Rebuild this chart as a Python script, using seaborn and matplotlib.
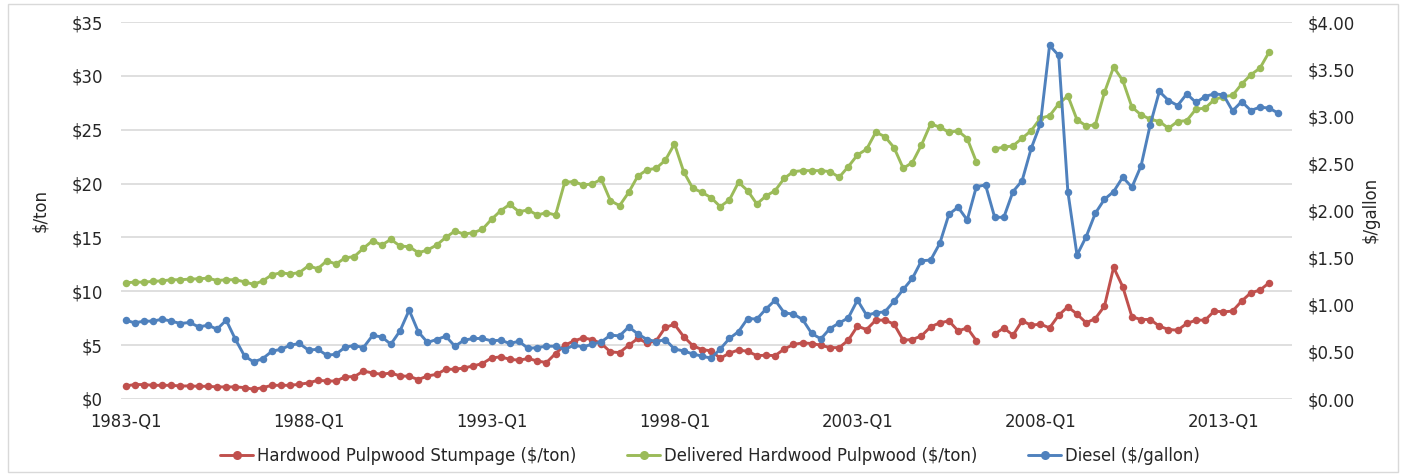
import matplotlib
matplotlib.use("Agg")
import matplotlib.pyplot as plt
import numpy as np
import pandas as pd
import seaborn as sns
from matplotlib.lines import Line2D
from matplotlib.patches import Rectangle

# ---------------- data ----------------
quarters = [f"{y}-Q{q}" for y in range(1983, 2015) for q in range(1, 5)]  # 128 categories
tick_labels = ["1983-Q1", "1988-Q1", "1993-Q1", "1998-Q1", "2003-Q1", "2008-Q1", "2013-Q1"]

stumpage = [
    1.21, 1.34, 1.34, 1.27, 1.27, 1.27, 1.21, 1.21, 1.18, 1.18,
    1.12, 1.12, 1.12, 1.06, 0.90, 1.06, 1.27, 1.27, 1.27, 1.37,
    1.49, 1.74, 1.67, 1.67, 2.05, 2.08, 2.59, 2.42, 2.29, 2.42,
    2.14, 2.11, 1.80, 2.14, 2.29, 2.76, 2.76, 2.88, 3.07, 3.29,
    3.81, 3.91, 3.69, 3.60, 3.76, 3.53, 3.38, 4.22, 4.99, 5.39,
    5.67, 5.52, 5.15, 4.37, 4.31, 4.99, 5.62, 5.20, 5.40, 6.65,
    6.93, 5.80, 4.95, 4.59, 4.47, 3.79, 4.25, 4.56, 4.42, 4.03,
    4.06, 4.03, 4.64, 5.06, 5.21, 5.15, 4.99, 4.77, 4.77, 5.46,
    6.76, 6.45, 7.32, 7.32, 6.95, 5.46, 5.52, 5.86, 6.70, 7.07,
    7.25, 6.32, 6.60, 5.42, None, 6.02, 6.60, 5.92, 7.25, 6.85,
    6.95, 6.60, 7.78, 8.56, 7.88, 7.07, 7.47, 8.62, 12.22, 10.42,
    7.63, 7.38, 7.38, 6.76, 6.45, 6.39, 7.01, 7.32, 7.32, 8.16,
    8.09, 8.16, 9.09, 9.86, 10.11, 10.79,
]

delivered = [
    10.79, 10.85, 10.85, 10.92, 10.97, 11.07, 11.07, 11.13, 11.16, 11.22,
    11.00, 11.07, 11.07, 10.88, 10.64, 10.97, 11.53, 11.72, 11.60, 11.74,
    12.37, 12.09, 12.83, 12.53, 13.10, 13.22, 14.00, 14.69, 14.29, 14.82,
    14.20, 14.14, 13.58, 13.83, 14.29, 15.00, 15.59, 15.31, 15.44, 15.75,
    16.68, 17.48, 18.07, 17.39, 17.55, 17.08, 17.30, 17.08, 20.12, 20.18,
    19.87, 19.96, 20.40, 18.41, 17.95, 19.19, 20.71, 21.27, 21.42, 22.17,
    23.68, 21.11, 19.56, 19.19, 18.69, 17.86, 18.48, 20.12, 19.34, 18.10,
    18.85, 19.34, 20.49, 21.11, 21.20, 21.20, 21.20, 21.11, 20.59, 21.57,
    22.66, 23.19, 24.77, 24.36, 23.34, 21.42, 21.95, 23.59, 25.54, 25.24,
    24.77, 24.89, 24.18, 22.01, None, 23.22, 23.38, 23.50, 24.21, 24.92,
    26.07, 26.29, 27.40, 28.15, 25.92, 25.36, 25.45, 28.46, 30.82, 29.57,
    27.10, 26.38, 25.98, 25.76, 25.14, 25.76, 25.85, 26.91, 27.00, 27.78,
    28.08, 28.18, 29.24, 30.10, 30.72, 32.21,
]

diesel = [
    0.836, 0.808, 0.826, 0.826, 0.847, 0.826, 0.801, 0.812, 0.765, 0.783,
    0.741, 0.836, 0.634, 0.457, 0.393, 0.429, 0.507, 0.528, 0.571, 0.589,
    0.518, 0.528, 0.464, 0.475, 0.550, 0.567, 0.546, 0.674, 0.659, 0.581,
    0.723, 0.943, 0.712, 0.600, 0.631, 0.666, 0.560, 0.624, 0.642, 0.642,
    0.617, 0.624, 0.589, 0.613, 0.536, 0.546, 0.560, 0.560, 0.525, 0.571,
    0.553, 0.581, 0.606, 0.677, 0.670, 0.765, 0.690, 0.631, 0.610, 0.630,
    0.530, 0.510, 0.478, 0.455, 0.433, 0.530, 0.642, 0.715, 0.854, 0.848,
    0.955, 1.049, 0.914, 0.900, 0.845, 0.695, 0.638, 0.748, 0.806, 0.861,
    1.049, 0.889, 0.914, 0.925, 1.038, 1.162, 1.279, 1.467, 1.474, 1.651,
    1.960, 2.035, 1.899, 2.253, 2.271, 1.928, 1.928, 2.200, 2.317, 2.661,
    2.919, 3.751, 3.645, 2.200, 1.527, 1.722, 1.970, 2.119, 2.200, 2.353,
    2.247, 2.473, 2.909, 3.263, 3.167, 3.114, 3.238, 3.146, 3.209, 3.238,
    3.227, 3.057, 3.156, 3.061, 3.097, 3.086, 3.033,
]

series_names = ["Hardwood Pulpwood Stumpage ($/ton)",
                "Delivered Hardwood Pulpwood ($/ton)",
                "Diesel ($/gallon)"]
colors = ["#C0504D", "#9BBB59", "#4F81BD"]

left_ticks = [0, 5, 10, 15, 20, 25, 30, 35]
right_ticks = [0.0, 0.5, 1.0, 1.5, 2.0, 2.5, 3.0, 3.5, 4.0]

# ---------------- build tables ----------------
def to_rows(values, name):
    rows, seg = [], 0
    for i, v in enumerate(values):
        if v is None:
            seg += 1
            continue
        rows.append({"idx": i, "value": v, "series": name, "seg": seg})
    return rows

wood = pd.DataFrame(to_rows(stumpage, series_names[0]) + to_rows(delivered, series_names[1]))
fuel = pd.DataFrame(to_rows(diesel, series_names[2]))

# ---------------- style ----------------
sns.set_theme(style="white")
plt.rcParams["font.family"] = ["DejaVu Sans"]
fs = 11.9
plt.rcParams["font.size"] = fs
text_color = "#262626"

W, H = 1401, 476
fig = plt.figure(figsize=(W / 100, H / 100), dpi=100)
left, right, top, bottom = 121, 1292, 22, 399
ax = fig.add_axes([left / W, 1 - bottom / H, (right - left) / W, (bottom - top) / H])

line_kw = dict(marker="o", markersize=5.4, markeredgewidth=0, linewidth=2.1)

sns.lineplot(data=wood, x="idx", y="value", hue="series", units="seg",
             estimator=None, sort=False,
             palette={series_names[0]: colors[0], series_names[1]: colors[1]},
             hue_order=series_names[:2], legend=False, ax=ax, **line_kw)

ax2 = ax.twinx()
sns.lineplot(data=fuel, x="idx", y="value", units="seg", estimator=None, sort=False,
             color=colors[2], legend=False, ax=ax2, **line_kw)

# axes
ax.set_xlim(-0.5, len(quarters) - 0.5)
ax.set_ylim(0, 35)
ax2.set_ylim(0, 4)
tick_pos = [quarters.index(t) for t in tick_labels]
ax.set_xticks(tick_pos)
ax.set_xticklabels(tick_labels)
ax.set_yticks(left_ticks)
ax.set_yticklabels([f"${v}" for v in left_ticks])
ax2.set_yticks(right_ticks)
ax2.set_yticklabels([f"${v:.2f}" for v in right_ticks])
ax.set_xlabel("")
ax.set_ylabel("")
ax2.set_ylabel("")

ax.yaxis.grid(True, color="#D9D9D9", linewidth=1.2)
ax.xaxis.grid(False)
ax2.grid(False)
ax.set_axisbelow(True)
for a in (ax, ax2):
    for s in a.spines.values():
        s.set_visible(False)
    a.set_facecolor("none")

ax.tick_params(axis="y", length=0, pad=13, labelcolor=text_color, labelsize=fs)
ax.tick_params(axis="x", length=0, pad=10, labelcolor=text_color, labelsize=fs)
ax2.tick_params(axis="y", length=0, pad=11, labelcolor=text_color, labelsize=fs)

fig.text(40 / W, 1 - 210 / H, "$/ton", rotation=90, ha="center", va="center",
         color=text_color, fontsize=fs)
fig.text(1371 / W, 1 - 210 / H, "$/gallon", rotation=90, ha="center", va="center",
         color=text_color, fontsize=fs)

handles = [Line2D([], [], color=c, marker="o", markersize=6.5, markeredgewidth=0,
                  linewidth=2.1) for c in colors]
leg = fig.legend(handles, series_names, loc="center", bbox_to_anchor=(710 / W, 1 - 456 / H),
                 ncol=3, frameon=False, handlelength=2.0, handletextpad=0.2,
                 columnspacing=3.1, fontsize=fs)
for t in leg.get_texts():
    t.set_color(text_color)

fig.patches.append(Rectangle((8 / W, 4 / H), (1398 - 8) / W, (472 - 4) / H,
                             transform=fig.transFigure, fill=False,
                             edgecolor="#D9D9D9", linewidth=1))

fig.savefig("out.png", dpi=100)
